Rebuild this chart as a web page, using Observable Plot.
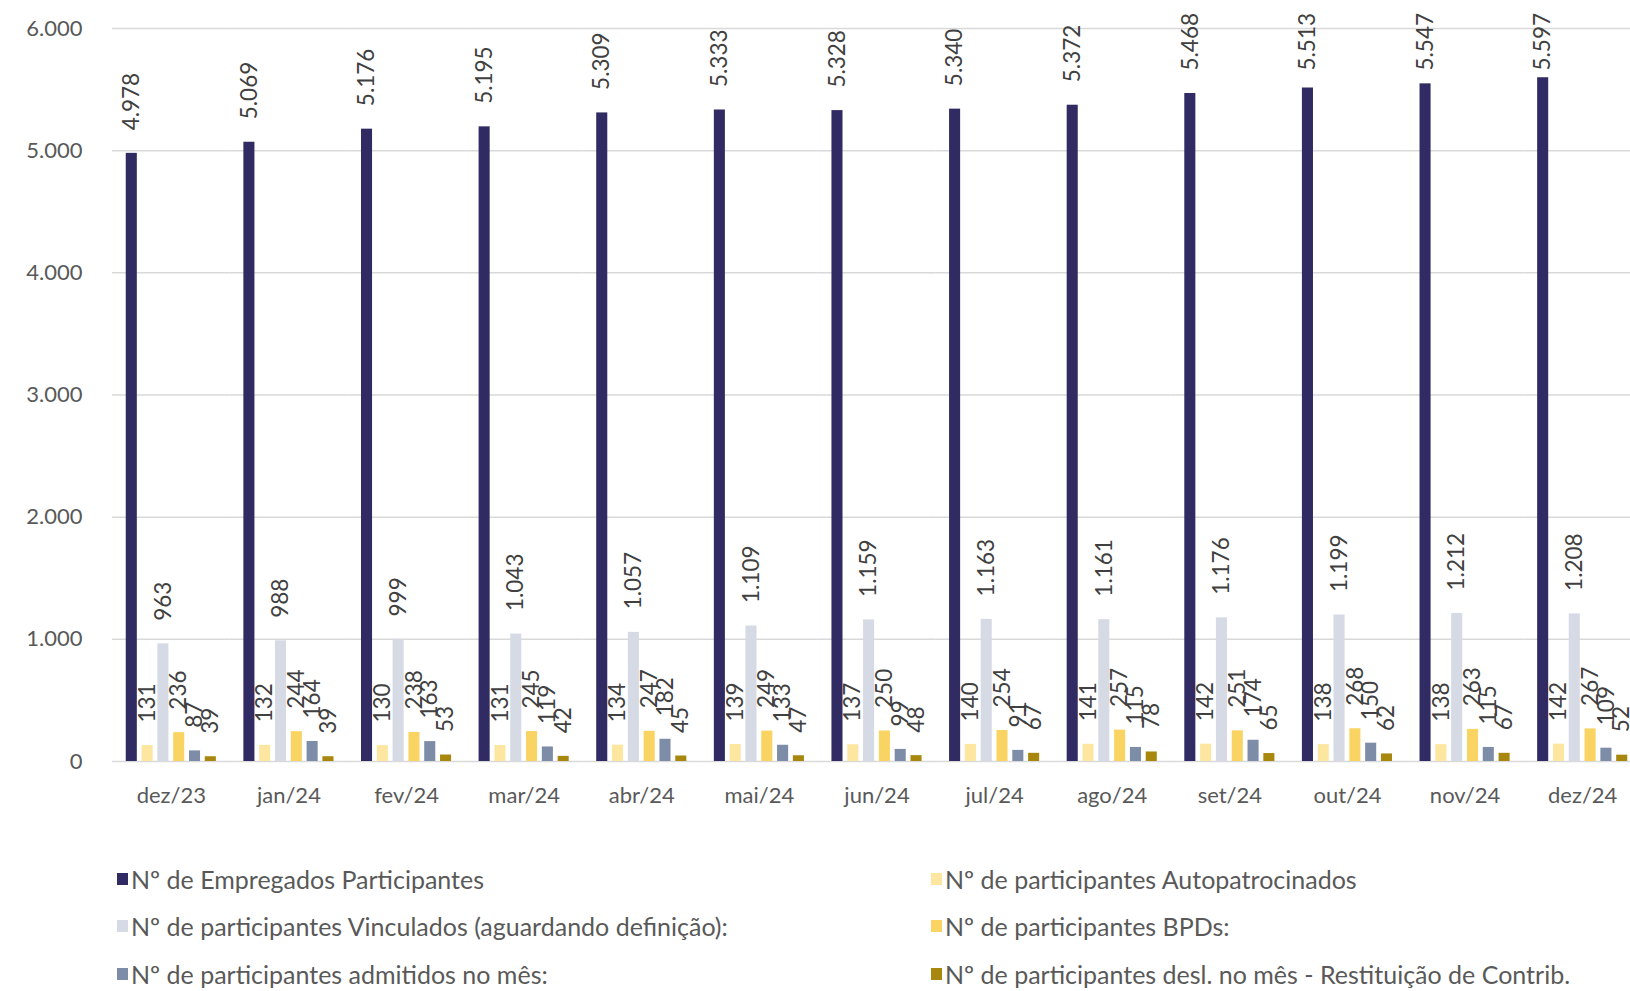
<!DOCTYPE html>
<html>
<head>
<meta charset="utf-8">
<script src="https://cdn.jsdelivr.net/npm/d3@7"></script>
<script src="https://cdn.jsdelivr.net/npm/@observablehq/plot@0.6"></script>
<style>
html, body { margin: 0; padding: 0; background: #fff; overflow: hidden; width: 1630px; height: 991px; }
#chart { position: absolute; left: 0; top: 0; }
#chart svg { max-width: none !important; }
#legend {
  position: absolute; left: 117px; top: 855px;
  display: grid; grid-template-columns: 814px auto; grid-auto-rows: 47.5px;
  font-family: Lato, "Open Sans", sans-serif; font-size: 25px; color: #595959;
}
.item { display: flex; align-items: center; height: 47.5px; white-space: nowrap; }
.sw { width: 11px; height: 12px; margin-right: 3px; flex: none; }
</style>
</head>
<body>
<div id="chart"></div>
<div id="legend"></div>
<script>
// ---- data ----
const months = ["dez/23","jan/24","fev/24","mar/24","abr/24","mai/24","jun/24","jul/24","ago/24","set/24","out/24","nov/24","dez/24"];
const seriesNames = [
  "Nº de Empregados Participantes",
  "Nº de participantes Autopatrocinados",
  "Nº de participantes Vinculados (aguardando definição):",
  "Nº de participantes BPDs:",
  "Nº de participantes admitidos no mês:",
  "Nº de participantes desl. no mês - Restituição de Contrib."
];
const seriesColors = ["#302b62", "#fce6a0", "#d6dae4", "#f9d462", "#7e8da7", "#a8870f"];
const empregados       = [4978, 5069, 5176, 5195, 5309, 5333, 5328, 5340, 5372, 5468, 5513, 5547, 5597];
const autopatrocinados = [131, 132, 130, 131, 134, 139, 137, 140, 141, 142, 138, 138, 142];
const vinculados       = [963, 988, 999, 1043, 1057, 1109, 1159, 1163, 1161, 1176, 1199, 1212, 1208];
const bpds             = [236, 244, 238, 245, 247, 249, 250, 254, 257, 251, 268, 263, 267];
const admitidos        = [87, 164, 163, 119, 182, 133, 99, 91, 115, 174, 150, 115, 109];
const desligados       = [39, 39, 53, 42, 45, 47, 48, 67, 78, 65, 62, 67, 52];
const yTicks = [0, 1000, 2000, 3000, 4000, 5000, 6000];
const labelCap = 5468; // data labels are kept inside the plot area, as in the original

// ---- table ----
const seriesValues = [empregados, autopatrocinados, vinculados, bpds, admitidos, desligados];
const rows = [];
months.forEach((m, i) => {
  seriesNames.forEach((s, j) => rows.push({month: m, series: s, value: seriesValues[j][i]}));
});
const fmt = v => d3.format(",")(v).replace(/,/g, ".");

const chart = Plot.plot({
  width: 1641,
  height: 830,
  marginLeft: 112,
  marginRight: 0,
  marginTop: 28,
  marginBottom: 69,
  style: {fontFamily: "Lato, 'Open Sans', sans-serif", fontSize: "22px", color: "#595959", background: "#fff", maxWidth: "none"},
  fx: {domain: months, padding: 0, round: false, axis: "bottom", tickSize: 0, tickPadding: 26, label: null, fontSize: 23.5},
  x: {domain: seriesNames, axis: null, round: false, paddingInner: 0.3, paddingOuter: 0.87},
  y: {domain: [0, 6000], ticks: yTicks, tickSize: 0, tickPadding: 30, tickFormat: fmt, label: null},
  color: {domain: seriesNames, range: seriesColors},
  marks: [
    Plot.ruleY(yTicks, {stroke: "#d9d9d9", strokeWidth: 1.5}),
    Plot.barY(rows, {fx: "month", x: "series", y: "value", fill: "series"}),
    Plot.text(rows, {
      fx: "month", x: "series",
      y: d => Math.min(d.value, labelCap),
      text: d => fmt(d.value),
      rotate: -90, textAnchor: "start", dy: -23,
      fontSize: 22.5, fill: "#404040"
    })
  ]
});
document.getElementById("chart").appendChild(chart);

const legend = document.getElementById("legend");
seriesNames.forEach((s, j) => {
  const it = document.createElement("div");
  it.className = "item";
  it.innerHTML = `<span class="sw" style="background:${seriesColors[j]}"></span><span>${s}</span>`;
  legend.appendChild(it);
});
</script>
</body>
</html>
